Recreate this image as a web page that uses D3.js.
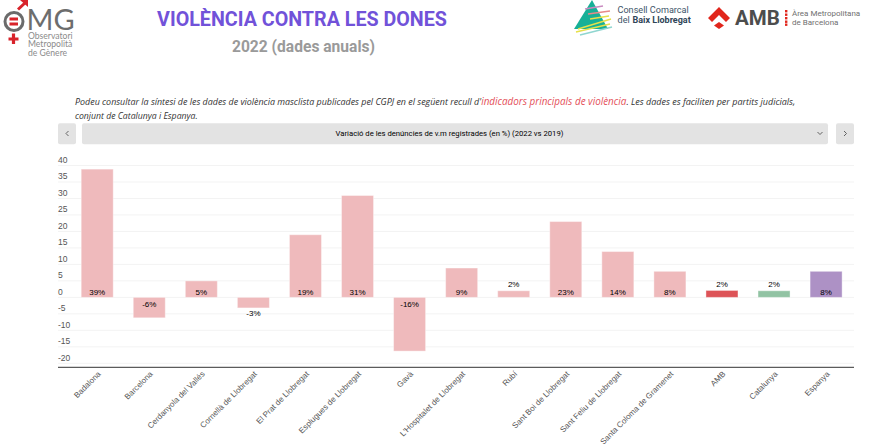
<!DOCTYPE html>
<html><head><meta charset="utf-8">
<script src="https://cdn.jsdelivr.net/npm/d3@7"></script>
<style>html,body{margin:0;padding:0;background:#fff;overflow:hidden}svg{display:block}</style>
</head><body><svg id="c" width="872" height="448"></svg>
<script>
const categories=["Badalona","Barcelona","Cerdanyola del Vallés","Cornellà de Llobregat","El Prat de Llobregat","Esplugues de Llobregat","Gavà","L'Hospitalet de Llobregat","Rubí","Sant Boi de Llobregat","Sant Feliu de Llobregat","Santa Coloma de Gramenet","AMB","Catalunya","Espanya"];
const values=[38.9,-6.2,5,-3.2,19,30.9,-16.3,8.9,2,23,13.9,7.9,2.1,2,7.9];
const labels=["39%","-6%","5%","-3%","19%","31%","-16%","9%","2%","23%","14%","8%","2%","2%","8%"];
const barColors=["#efbabc","#efbabc","#efbabc","#efbabc","#efbabc","#efbabc","#efbabc","#efbabc","#efbabc","#efbabc","#efbabc","#efbabc","#dd5357","#91c3a3","#ad91c5"];
const yTicks=[40,35,30,25,20,15,10,5,0,-5,-10,-15,-20];
const titleText="VIOLÈNCIA CONTRA LES DONES",subtitleText="2022 (dades anuals)";
const selectText="Variació de les denúncies de v.m registrades (en %) (2022 vs 2019)";

const svg=d3.select("#c");
const x=d3.scaleBand().domain(categories).range([71.3,852]).paddingInner(0.385).paddingOuter(0.19);
const y=d3.scaleLinear().domain([-20,40]).range([363.3,165.5]);
const sans="Roboto,sans-serif";
const T=(g,px,py,s,o)=>{const t=g.append("text").attr("x",px).attr("y",py).text(s);Object.entries(o||{}).forEach(([k,v])=>t.style(k,v));return t;};

// header
T(svg,302,26,titleText,{"font-family":sans,"font-weight":"700","font-size":"19.7px","fill":"#7152d9","text-anchor":"middle"});
T(svg,303.5,52,subtitleText,{"font-family":sans,"font-weight":"700","font-size":"15.6px","fill":"#9a9a9a","text-anchor":"middle"});

// OMG logo
const omg=svg.append("g");
omg.append("circle").attr("cx",14).attr("cy",21.5).attr("r",9).attr("fill","none").attr("stroke","#6b6b6b").attr("stroke-width",3);
omg.append("rect").attr("x",9.5).attr("y",17.5).attr("width",8.5).attr("height",3).attr("fill","#d8232a");
omg.append("rect").attr("x",9.5).attr("y",22.5).attr("width",8.5).attr("height",3).attr("fill","#d8232a");
omg.append("path").attr("d","M18 9.5L26 2").attr("fill","none").attr("stroke","#d8232a").attr("stroke-width",3);
omg.append("path").attr("d","M20 0H28V7Z").attr("fill","#d8232a");
omg.append("path").attr("d","M13.5 33.5V44M8.5 39H18.5").attr("stroke","#d8232a").attr("stroke-width",3.2);
T(omg,26.5,30,"MG",{"font-family":"Lato,sans-serif","font-size":"29px","fill":"#6d6d6d"});
[["Observatori",38.5],["Metropolità",47],["de Gènere",55.5]].forEach(d=>T(omg,28,d[1],d[0],{"font-family":"Lato,sans-serif","font-size":"8.6px","fill":"#8b8b8b"}));

// Baix Llobregat logo
const bl=svg.append("g");
bl.append("path").attr("d","M592 0L608 29L574 29Z").attr("fill","#17b097");
[["#c98bc0",585,9,603,6],["#e88a8a",588,14,610,11],["#e6e04a",590,19,609,16],["#e6e04a",578,29,611,19],["#e6e04a",576,32,610,24],["#8fd6d0",580,35,612,27]].forEach(d=>
  bl.append("line").attr("x1",d[1]).attr("y1",d[2]).attr("x2",d[3]).attr("y2",d[4]).attr("stroke",d[0]).attr("stroke-width",1.5));
T(bl,617.5,13,"Consell Comarcal",{"font-family":sans,"font-size":"9.1px","fill":"#3d5468"});
T(bl,617.5,22.5,"del ",{"font-family":sans,"font-size":"9.1px","fill":"#3d5468"});
T(bl,632.5,22.5,"Baix Llobregat",{"font-family":sans,"font-size":"9px","font-weight":"700","fill":"#2f4558"});

// AMB logo
const amb=svg.append("g");
amb.append("path").attr("d","M708 18L719 7L730 18L726 22L719 15L712 22Z").attr("fill","#e1261c");
amb.append("path").attr("d","M719 22L724 25.5L719 29L714 25.5Z").attr("fill","#e1261c");
T(amb,735,24.5,"AMB",{"font-family":sans,"font-weight":"700","font-size":"20.5px","fill":"#4d4d4d"});
[10,13.5,17,20.5,23.5].forEach(v=>amb.append("rect").attr("x",785).attr("y",v).attr("width",2.4).attr("height",2.4).attr("fill","#e1261c"));
T(amb,792,15.5,"Àrea Metropolitana",{"font-family":sans,"font-size":"8px","fill":"#6f6f6f"});
T(amb,792,24.5,"de Barcelona",{"font-family":sans,"font-size":"8px","fill":"#6f6f6f"});

// paragraph
const pf={"font-family":"'Open Sans',sans-serif","font-style":"italic","font-size":"8.92px","fill":"#333"};
const p1=T(svg,75,105,"",pf);
p1.append("tspan").text("Podeu consultar la síntesi de les dades de violència masclista publicades pel CGPJ en el següent recull d'");
p1.append("tspan").text("indicadors principals de violència").style("fill","#e4505a").style("font-size","9.9px");
p1.append("tspan").text(". Les dades es faciliten per partits judicials,").style("font-size","9px");
T(svg,75,119,"conjunt de Catalunya i Espanya.",{...pf,"font-size":"8.7px"});

// selector
[[58,18],[82,746],[836,18]].forEach(d=>svg.append("rect").attr("x",d[0]).attr("y",123.3).attr("width",d[1]).attr("height",21).attr("rx",2).attr("fill","#e3e3e3"));
const chev=d=>svg.append("path").attr("d",d).attr("fill","none").attr("stroke","#555").attr("stroke-width",0.9);
chev("M68.5 131L66 133.5L68.5 136");chev("M844 131L846.5 133.5L844 136");chev("M817.5 132L820 134.5L822.5 132");
T(svg,449.5,136,selectText,{"font-family":sans,"font-size":"7.7px","fill":"#000","text-anchor":"middle"});

// grid + y labels
const gridG=svg.append("g");
gridG.selectAll("line").data(yTicks).join("line").attr("x1",58).attr("x2",854).attr("y1",d=>y(d)).attr("y2",d=>y(d)).attr("stroke","#f3f3f3").attr("stroke-width",1);
svg.append("g").selectAll("text").data(yTicks).join("text").attr("x",58).attr("y",d=>y(d)-2.5).text(d=>d)
 .style("font-family","'Liberation Sans',sans-serif").style("font-size","8.5px").style("fill","#555");

// bars
svg.append("g").selectAll("rect").data(categories).join("rect")
 .attr("x",d=>x(d)).attr("width",x.bandwidth())
 .attr("y",(d,i)=>y(Math.max(0,values[i]))).attr("height",(d,i)=>Math.abs(y(values[i])-y(0)))
 .attr("fill",(d,i)=>barColors[i]).attr("stroke","#fff").attr("stroke-opacity",0.4).attr("stroke-width",1);

// value labels
const outside=new Set(["-3%","2%"]);
svg.append("g").selectAll("text").data(categories).join("text")
 .attr("x",d=>x(d)+x.bandwidth()/2)
 .attr("y",(d,i)=>{const l=labels[i];if(values[i]>=0)return outside.has(l)?y(values[i])-3.5:y(0)-2;return outside.has(l)?y(values[i])+8.5:y(0)+9.5;})
 .attr("text-anchor","middle").text((d,i)=>labels[i])
 .style("font-family","'Liberation Sans',sans-serif").style("font-size","8px").style("fill","#000");

// baseline
svg.append("line").attr("x1",58).attr("x2",854).attr("y1",367.3).attr("y2",367.3).attr("stroke","#333").attr("stroke-width",1);

// x labels
svg.append("g").selectAll("text").data(categories).join("text")
 .attr("text-anchor","end")
 .attr("transform",d=>`translate(${x(d)+x.bandwidth()/2+4},374.5) rotate(-45)`)
 .text(d=>d)
 .style("font-family","'Liberation Sans',sans-serif").style("font-size","8px").style("fill","#555");
</script></body></html>
